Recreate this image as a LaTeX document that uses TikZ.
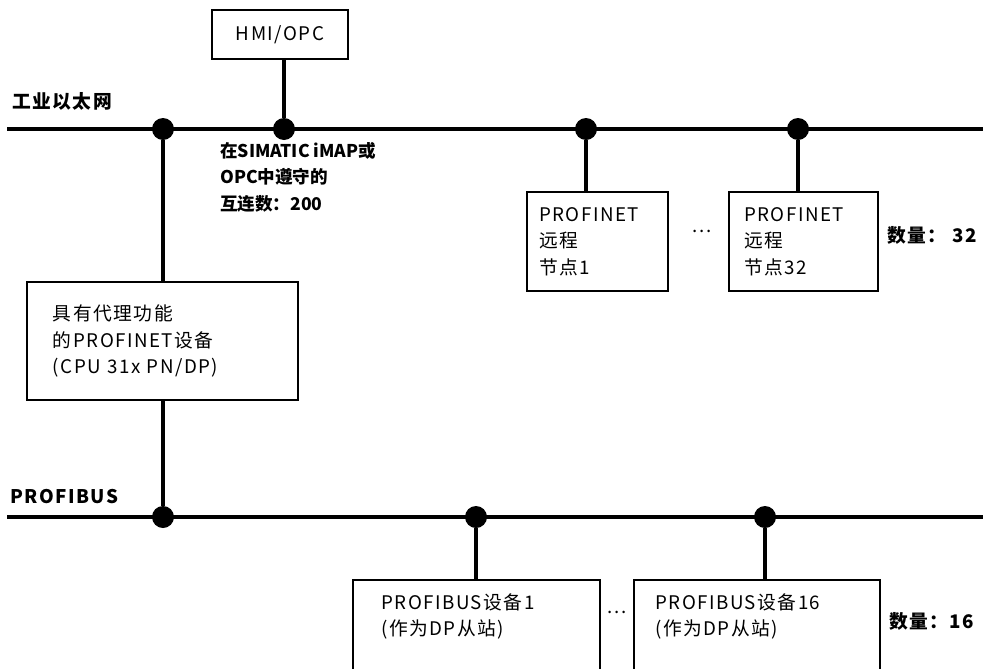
\documentclass[tikz,border=0pt]{standalone}
\usepackage{fontspec}
\setmainfont{Noto Sans CJK SC}[LetterSpace=8]
\newfontfamily\tightfont{Noto Sans CJK SC}
\usetikzlibrary{positioning}

\newcommand\basesize{\fontsize{16}{22.5}\selectfont}

\tikzset{
  bus/.style={line width=2.6pt},
  tap/.style={circle, fill=black, inner sep=0pt, minimum size=0.66cm},
  box/.style={draw, line width=1.3pt, align=left, inner ysep=0pt},
  busname/.style={font=\basesize\bfseries, anchor=west},
}

\begin{document}
\begin{tikzpicture}[x=0.03cm, y=-0.03cm, font=\basesize]
    \useasboundingbox (0,0) rectangle (983,668);
    \clip (0,0) rectangle (983,668);

    % Industrial Ethernet
    \coordinate (ethL) at (7,129);
    \coordinate (ethR) at (983,129);
    \draw[bus] (ethL) -- (ethR);
    \node[busname] (ethname) at (8,101) {工业以太网};
    \node[tap] (e1) at (163,129) {};
    \node[tap] (e2) at (284,129) {};
    \node[tap] (e3) at (586,129) {};
    \node[tap] (e4) at (798,129) {};

    \node[box, align=center, minimum width=4.08cm, minimum height=1.47cm] (hmi) at (280,34.5) {HMI/OPC};
    \draw[bus] (e2) -- (e2 |- hmi.south);
    \node[font=\fontsize{15}{22.5}\selectfont\bfseries\tightfont, anchor=north west, align=left, inner sep=0pt] (conn) at (220,142)
        {在SIMATIC iMAP或\\OPC中遵守的\\互连数：200};

    % PROFINET nodes
    \node[box, text width=3.51cm, inner xsep=0.36cm, minimum height=2.97cm] (pn1) at (597.5,241.5) {PROFINET\\远程\\节点1};
    \node[box, text width=3.57cm, inner xsep=0.45cm, minimum height=2.97cm] (pn2) at (803.5,241.5) {PROFINET\\远程\\节点32};
    \draw[bus] (e3) -- (e3 |- pn1.north);
    \draw[bus] (e4) -- (e4 |- pn2.north);
    \node (pndots) at (702,231) {...};
    \node[busname] (pncount) at (883,235) {数量： 32};

    % proxy
    \node[box, text width=6.57cm, inner xsep=0.78cm, minimum height=3.54cm] (proxy) at (162.5,341)
        {具有代理功能\\的PROFINET设备\\(CPU 31x PN/DP)};
    \draw[bus] (e1) -- (e1 |- proxy.north);

    % PROFIBUS
    \coordinate (pbL) at (7,517);
    \coordinate (pbR) at (983,517);
    \draw[bus] (pbL) -- (pbR);
    \node[busname] (pbname) at (6,497) {PROFIBUS};
    \node[tap] (p1) at (163,517) {};
    \node[tap] (p2) at (476,517) {};
    \node[tap] (p3) at (765,517) {};
    \draw[bus] (p1) -- (p1 |- proxy.south);

    \node[box, minimum width=7.41cm, minimum height=3.6cm, anchor=north west] (dp1) at (352,579) {};
    \node[box, minimum width=7.38cm, minimum height=3.6cm, anchor=north west] (dp2) at (633,579) {};
    \node[align=left, inner sep=0pt, below right=0.42cm and 0.87cm of dp1.north west] (dp1text) {PROFIBUS设备1\\(作为DP从站)};
    \node[align=left, inner sep=0pt, below right=0.42cm and 0.66cm of dp2.north west] (dp2text) {PROFIBUS设备16\\(作为DP从站)};
    \draw[bus] (p2) -- (p2 |- dp1.north);
    \draw[bus] (p3) -- (p3 |- dp2.north);
    \node (dpdots) at (617,612) {...};
    \node[busname] (dpcount) at (885,621) {数量：16};
\end{tikzpicture}
\end{document}
